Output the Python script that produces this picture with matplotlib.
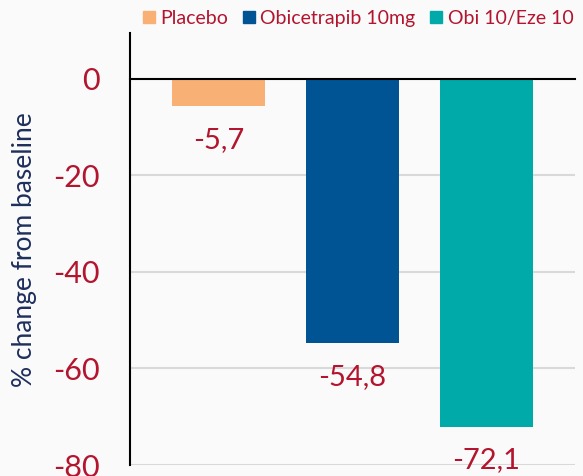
import matplotlib.pyplot as plt
from matplotlib.lines import Line2D

# LDL-C change by treatment arm
groups = ['Placebo', 'Obicetrapib 10mg', 'Obi 10/Eze 10']
change = [-5.7, -54.8, -72.1]
labels = ['-5,7', '-54,8', '-72,1']
colors = ['#F8B074', '#005494', '#00AAA8']
yticks = [0, -20, -40, -60, -80]

RED = '#B3142E'
NAVY = '#1F2F5C'
BG = '#FAFAFA'

plt.rcParams['font.family'] = ['Lato', 'DejaVu Sans']

fig = plt.figure(figsize=(5.83, 4.76), dpi=100, facecolor=BG)
ax = fig.add_axes([0.223, 0.023, 0.763, 0.908], facecolor=BG)

x = list(range(len(groups)))
ax.bar(x, change, width=0.69, color=colors, zorder=3)

ax.set_xlim(-0.66, 2.66)
ax.set_ylim(-80, 9.5)
ax.set_yticks(yticks)
ax.set_yticklabels([str(t) for t in yticks], color=RED, fontsize=22)
ax.tick_params(axis='y', length=0, pad=22)
ax.set_xticks([])

for t in [-20, -40, -60, -80]:
    ax.axhline(t, color='#D9D9D9', lw=1.5, zorder=1)
ax.axhline(0, color='black', lw=1.5, zorder=4, clip_on=False)

for s in ['top', 'right', 'bottom']:
    ax.spines[s].set_visible(False)
ax.spines['left'].set_color('black')
ax.spines['left'].set_linewidth(1.5)

# value labels under each bar
for xi, v, lab in zip(x, change, labels):
    ax.annotate(lab, (xi, v), xytext=(0, -24), textcoords='offset points',
                ha='center', va='center', color=RED, fontsize=21)

fig.text(0.042, 0.475, '% change from baseline', rotation=90, ha='center',
         va='center', color=NAVY, fontsize=19)

handles = [Line2D([], [], marker='s', ls='', color=c, markersize=9) for c in colors]
fig.legend(handles, groups, loc='center right', bbox_to_anchor=(1.0, 0.962),
           ncol=3, frameon=False, fontsize=14, handlelength=0.6,
           handletextpad=0.3, columnspacing=0.75, labelcolor=RED,
           borderaxespad=0.1)

fig.savefig('out.png', dpi=100, facecolor=BG)
